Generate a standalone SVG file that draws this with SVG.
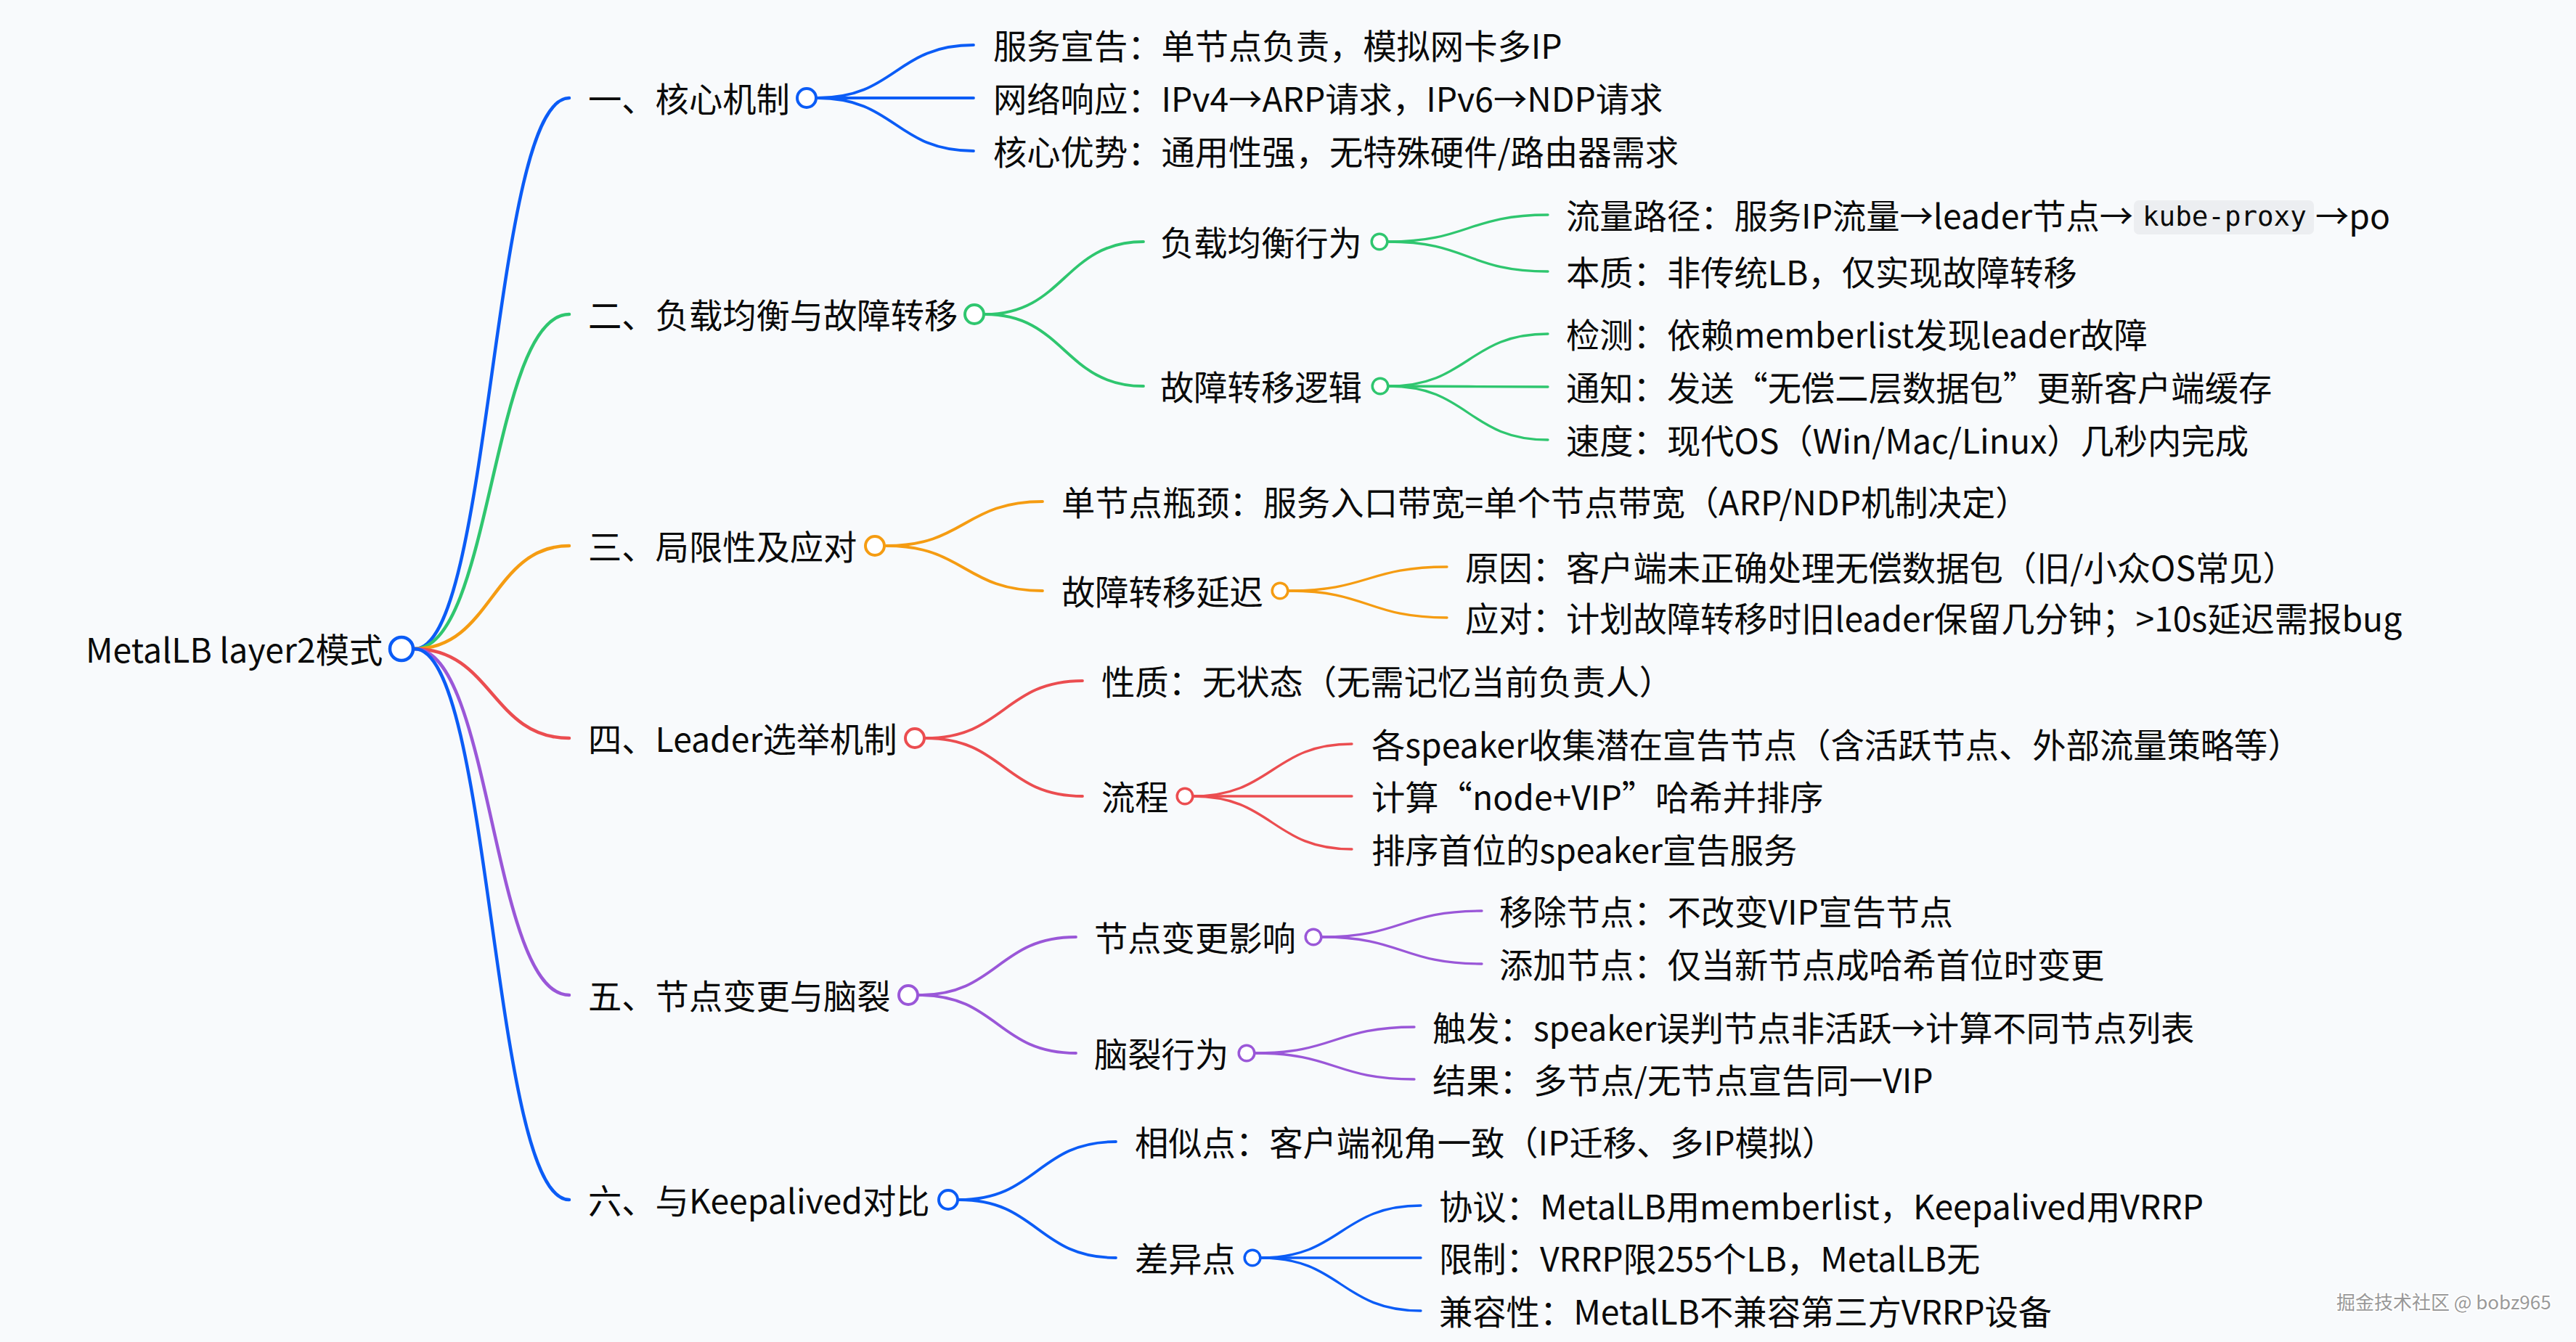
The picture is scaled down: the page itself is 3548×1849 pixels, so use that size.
<svg xmlns="http://www.w3.org/2000/svg" width="3548" height="1849" viewBox="0 0 3548 1849">
<style>
text{font-family:"Noto Sans CJK SC","Noto Sans",sans-serif;font-size:46.3px;fill:#0a0a0a}
.lk{fill:none;stroke-linecap:round}
.w1{stroke-width:4.5}.w2{stroke-width:3.8}.w3{stroke-width:3.3}
.c{fill:#fff}
.c0{stroke-width:4.5}.c1{stroke-width:4}.c2{stroke-width:3.5}
.blue{stroke:#0b5cf6}.green{stroke:#2fc66f}.orange{stroke:#f59c12}.red{stroke:#eb4d50}.purple{stroke:#9a57d8}
.mono{font-family:"DejaVu Sans Mono","Liberation Mono",monospace;font-size:37.5px}
.wm{font-size:26px;fill:#999;stroke:#fff;stroke-width:3;paint-order:stroke}
</style>
<rect width="3548" height="1849" fill="#f8fafc"/>
<g id="connectors">
<path class="lk w1 blue" d="M571 894C677.5 894 677.5 135 784 135"/>
<path class="lk w1 green" d="M571 894C677.5 894 677.5 433 784 433"/>
<path class="lk w1 orange" d="M571 894C677.5 894 677.5 752 784 752"/>
<path class="lk w1 red" d="M571 894C677.5 894 677.5 1017 784 1017"/>
<path class="lk w1 purple" d="M571 894C677.5 894 677.5 1371 784 1371"/>
<path class="lk w1 blue" d="M571 894C677.5 894 677.5 1653 784 1653"/>

<path class="lk w2 blue" d="M1126 135C1233.5 135 1233.5 62 1341 62"/>
<path class="lk w2 blue" d="M1126 135L1341 135"/>
<path class="lk w2 blue" d="M1126 135C1233.5 135 1233.5 208 1341 208"/>

<path class="lk w2 green" d="M1357 433C1466 433 1466 333 1575 333"/>
<path class="lk w2 green" d="M1357 433C1466 433 1466 532 1575 532"/>
<path class="lk w3 green" d="M1912 333C2022 333 2022 296 2132 296"/>
<path class="lk w3 green" d="M1912 333C2022 333 2022 374 2132 374"/>
<path class="lk w3 green" d="M1913 532C2022.5 532 2022.5 460 2132 460"/>
<path class="lk w3 green" d="M1913 532C2022.5 532 2022.5 533 2132 533"/>
<path class="lk w3 green" d="M1913 532C2022.5 532 2022.5 606 2132 606"/>

<path class="lk w2 orange" d="M1221 752C1328.5 752 1328.5 691 1436 691"/>
<path class="lk w2 orange" d="M1221 752C1328.5 752 1328.5 814 1436 814"/>
<path class="lk w3 orange" d="M1775 814C1884 814 1884 781 1993 781"/>
<path class="lk w3 orange" d="M1775 814C1884 814 1884 851 1993 851"/>

<path class="lk w2 red" d="M1275 1017C1383 1017 1383 938 1491 938"/>
<path class="lk w2 red" d="M1275 1017C1383 1017 1383 1097 1491 1097"/>
<path class="lk w3 red" d="M1643 1097C1752.5 1097 1752.5 1025 1862 1025"/>
<path class="lk w3 red" d="M1643 1097L1862 1097"/>
<path class="lk w3 red" d="M1643 1097C1752.5 1097 1752.5 1170 1862 1170"/>

<path class="lk w2 purple" d="M1266 1371C1374 1371 1374 1291 1482 1291"/>
<path class="lk w2 purple" d="M1266 1371C1374 1371 1374 1451 1482 1451"/>
<path class="lk w3 purple" d="M1821 1291C1931 1291 1931 1255 2041 1255"/>
<path class="lk w3 purple" d="M1821 1291C1931 1291 1931 1328 2041 1328"/>
<path class="lk w3 purple" d="M1729 1451C1838.5 1451 1838.5 1415 1948 1415"/>
<path class="lk w3 purple" d="M1729 1451C1838.5 1451 1838.5 1487 1948 1487"/>

<path class="lk w2 blue" d="M1321 1653C1429 1653 1429 1573 1537 1573"/>
<path class="lk w2 blue" d="M1321 1653C1429 1653 1429 1733 1537 1733"/>
<path class="lk w3 blue" d="M1737 1733C1847 1733 1847 1661 1957 1661"/>
<path class="lk w3 blue" d="M1737 1733L1957 1733"/>
<path class="lk w3 blue" d="M1737 1733C1847 1733 1847 1806 1957 1806"/>
</g>

<g id="root">
<text x="118" y="913">MetalLB layer2模式</text>
<circle class="c c0 blue" cx="553" cy="894" r="16"/>
</g>

<g id="n1">
<text x="810" y="154">一、核心机制</text>
<circle class="c c1 blue" cx="1111" cy="135" r="13"/>
</g>
<g id="n1-1"><text x="1368" y="81">服务宣告：单节点负责，模拟网卡多IP</text></g>
<g id="n1-2"><text x="1368" y="154">网络响应：IPv4→ARP请求，IPv6→NDP请求</text></g>
<g id="n1-3"><text x="1368" y="227">核心优势：通用性强，无特殊硬件/路由器需求</text></g>

<g id="n2">
<text x="810" y="452">二、负载均衡与故障转移</text>
<circle class="c c1 green" cx="1342" cy="433" r="13"/>
</g>
<g id="n2-1">
<text x="1598" y="352">负载均衡行为</text>
<circle class="c c2 green" cx="1900" cy="333" r="10.8"/>
</g>
<g id="n2-1-1">
<text x="2157" y="315">流量路径：服务IP流量→leader节点→</text>
<rect x="2939" y="276" width="248" height="47" rx="7" fill="#eceef1"/>
<text class="mono" x="2951" y="311">kube-proxy</text>
<text x="3189" y="315">→po</text>
</g>
<g id="n2-1-2"><text x="2157" y="393">本质：非传统LB，仅实现故障转移</text></g>
<g id="n2-2">
<text x="1598" y="551">故障转移逻辑</text>
<circle class="c c2 green" cx="1901" cy="532" r="10.8"/>
</g>
<g id="n2-2-1"><text x="2157" y="479">检测：依赖memberlist发现leader故障</text></g>
<g id="n2-2-2"><text x="2157" y="552">通知：发送“无偿二层数据包”更新客户端缓存</text></g>
<g id="n2-2-3"><text x="2157" y="625">速度：现代OS（Win/Mac/Linux）几秒内完成</text></g>

<g id="n3">
<text x="810" y="771">三、局限性及应对</text>
<circle class="c c1 orange" cx="1205" cy="752" r="13"/>
</g>
<g id="n3-1"><text x="1462" y="710">单节点瓶颈：服务入口带宽=单个节点带宽（ARP/NDP机制决定）</text></g>
<g id="n3-2">
<text x="1462" y="833">故障转移延迟</text>
<circle class="c c2 orange" cx="1763" cy="814" r="10.8"/>
</g>
<g id="n3-2-1"><text x="2018" y="800">原因：客户端未正确处理无偿数据包（旧/小众OS常见）</text></g>
<g id="n3-2-2"><text x="2018" y="870">应对：计划故障转移时旧leader保留几分钟；&gt;10s延迟需报bug</text></g>

<g id="n4">
<text x="810" y="1036">四、Leader选举机制</text>
<circle class="c c1 red" cx="1260" cy="1017" r="13"/>
</g>
<g id="n4-1"><text x="1517" y="957">性质：无状态（无需记忆当前负责人）</text></g>
<g id="n4-2">
<text x="1517" y="1116">流程</text>
<circle class="c c2 red" cx="1632" cy="1097" r="10.8"/>
</g>
<g id="n4-2-1"><text x="1889" y="1044">各speaker收集潜在宣告节点（含活跃节点、外部流量策略等）</text></g>
<g id="n4-2-2"><text x="1889" y="1116">计算“node+VIP”哈希并排序</text></g>
<g id="n4-2-3"><text x="1889" y="1189">排序首位的speaker宣告服务</text></g>

<g id="n5">
<text x="810" y="1390">五、节点变更与脑裂</text>
<circle class="c c1 purple" cx="1251" cy="1371" r="13"/>
</g>
<g id="n5-1">
<text x="1507" y="1310">节点变更影响</text>
<circle class="c c2 purple" cx="1809" cy="1291" r="10.8"/>
</g>
<g id="n5-1-1"><text x="2065" y="1274">移除节点：不改变VIP宣告节点</text></g>
<g id="n5-1-2"><text x="2065" y="1347">添加节点：仅当新节点成哈希首位时变更</text></g>
<g id="n5-2">
<text x="1507" y="1470">脑裂行为</text>
<circle class="c c2 purple" cx="1717" cy="1451" r="10.8"/>
</g>
<g id="n5-2-1"><text x="1973" y="1434">触发：speaker误判节点非活跃→计算不同节点列表</text></g>
<g id="n5-2-2"><text x="1973" y="1506">结果：多节点/无节点宣告同一VIP</text></g>

<g id="n6">
<text x="810" y="1672">六、与Keepalived对比</text>
<circle class="c c1 blue" cx="1306" cy="1653" r="13"/>
</g>
<g id="n6-1"><text x="1563" y="1592">相似点：客户端视角一致（IP迁移、多IP模拟）</text></g>
<g id="n6-2">
<text x="1563" y="1752">差异点</text>
<circle class="c c2 blue" cx="1725" cy="1733" r="10.8"/>
</g>
<g id="n6-2-1"><text x="1982" y="1680">协议：MetalLB用memberlist，Keepalived用VRRP</text></g>
<g id="n6-2-2"><text x="1982" y="1752">限制：VRRP限255个LB，MetalLB无</text></g>
<g id="n6-2-3"><text x="1982" y="1825">兼容性：MetalLB不兼容第三方VRRP设备</text></g>

<text class="wm" x="3218" y="1804">掘金技术社区 @ bobz965</text>
</svg>
